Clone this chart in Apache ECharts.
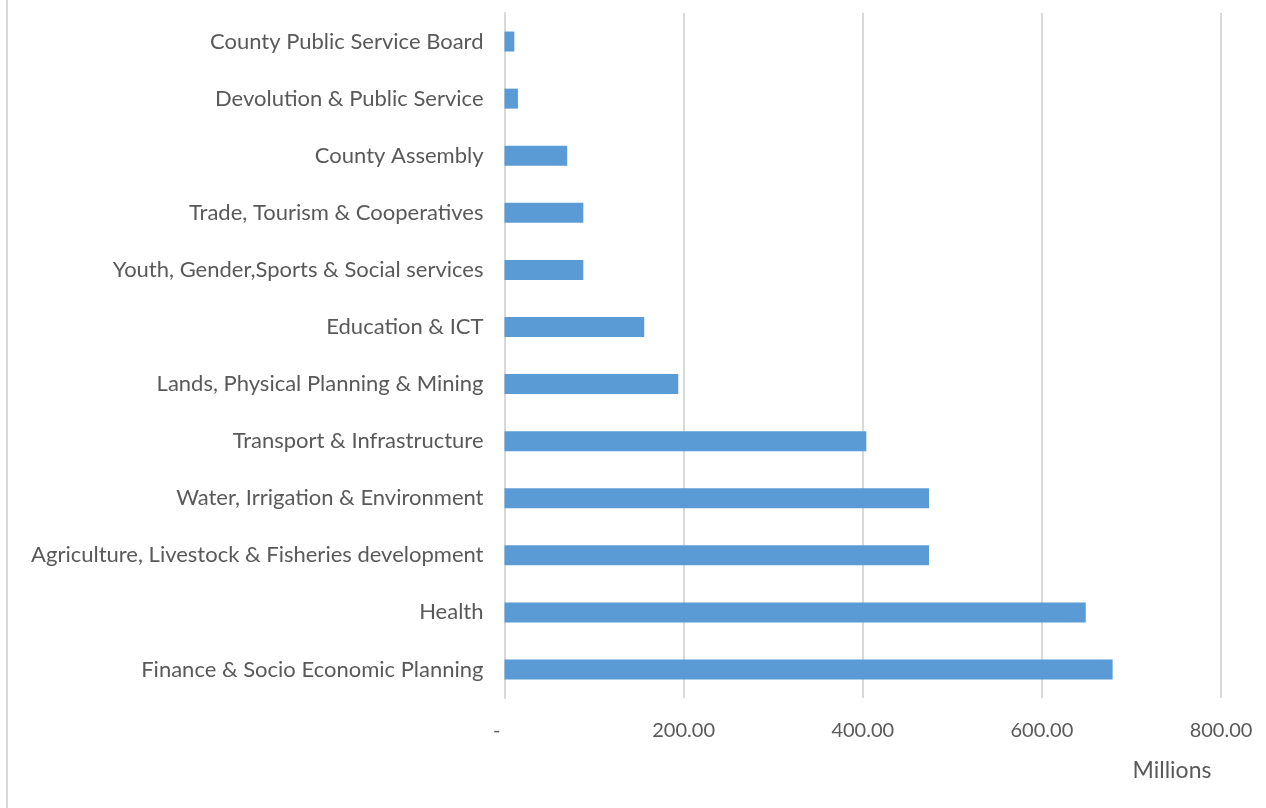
<!DOCTYPE html>
<html>
<head>
<meta charset="utf-8">
<script src="https://cdn.jsdelivr.net/npm/echarts@6/dist/echarts.min.js"></script>
<style>
html,body{margin:0;padding:0;background:#fff;}
#chart{width:1266px;height:808px;}
</style>
</head>
<body>
<div id="chart"></div>
<script>
const categories = [
  "County Public Service Board",
  "Devolution & Public Service",
  "County Assembly",
  "Trade, Tourism & Cooperatives",
  "Youth, Gender,Sports & Social services",
  "Education & ICT",
  "Lands, Physical Planning & Mining",
  "Transport & Infrastructure",
  "Water, Irrigation & Environment",
  "Agriculture, Livestock & Fisheries development",
  "Health",
  "Finance & Socio Economic Planning"
];
const values = [11, 15, 70, 88, 88, 156, 194, 404, 474, 474, 649, 679];
const xTicks = [0, 200, 400, 600, 800];
const axisTitle = "Millions";

const FONT = "Lato";
const TXT = "#595959";
const GRID = "#d9d9d9";

const chart = echarts.init(document.getElementById('chart'));
chart.setOption({
  backgroundColor: '#fff',
  animation: false,
  grid: { left: 504.5, right: 45, top: 13, bottom: 110, containLabel: false },
  xAxis: {
    type: 'value',
    min: xTicks[0],
    max: xTicks[xTicks.length - 1],
    interval: 200,
    axisLine: { show: false },
    axisTick: { show: false },
    splitLine: { show: true, lineStyle: { color: GRID, width: 2 } },
    axisLabel: {
      color: TXT, fontFamily: FONT, fontSize: 20, margin: 23,
      formatter: v => v === 0 ? '-\u00a0\u00a0\u00a0' : v.toFixed(2)
    }
  },
  yAxis: {
    type: 'category',
    data: categories,
    inverse: true,
    axisLine: { show: true, lineStyle: { color: GRID, width: 2 } },
    axisTick: { show: false },
    axisLabel: { color: TXT, fontFamily: FONT, fontSize: 22, margin: 21 }
  },
  series: [{
    type: 'bar',
    data: values,
    barWidth: 20,
    itemStyle: { color: '#5b9bd5' }
  }],
  graphic: [
    { type: 'line', shape: { x1: 7, y1: 0, x2: 7, y2: 808 }, style: { stroke: GRID, lineWidth: 2 } },
    { type: 'text', x: 1172, y: 771, style: { text: axisTitle, fill: TXT, font: '23px ' + FONT, textAlign: 'center', textVerticalAlign: 'middle' } }
  ]
});
</script>
</body>
</html>
